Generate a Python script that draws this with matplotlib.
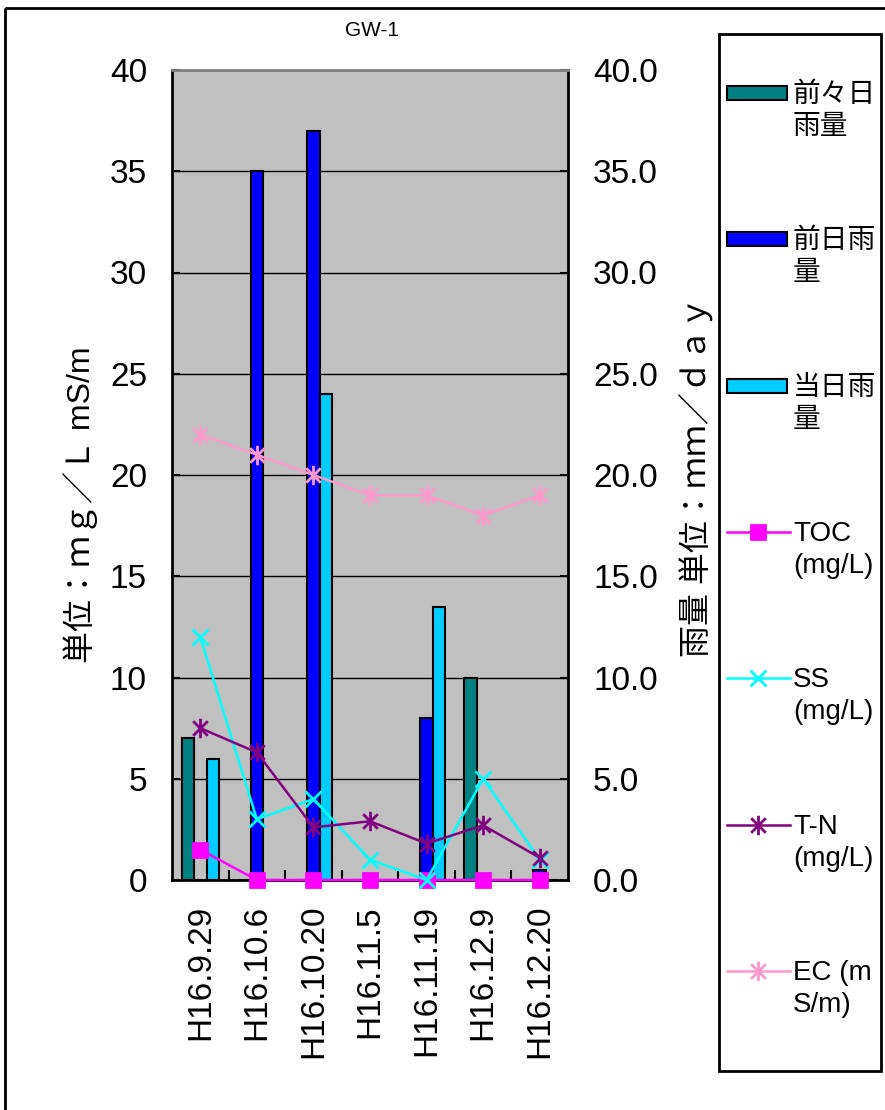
import matplotlib
matplotlib.use('Agg')
import matplotlib.pyplot as plt
import numpy as np
from matplotlib.patches import Rectangle
from matplotlib.path import Path

plt.rcParams['font.family'] = ['Liberation Sans', 'Noto Sans CJK JP', 'DejaVu Sans']

# ---------------- data ----------------
categories = ['H16.9.29', 'H16.10.6', 'H16.10.20', 'H16.11.5',
              'H16.11.19', 'H16.12.9', 'H16.12.20']
rain_2days_before = [7, 0, 0, 0, 0, 10, 0]
rain_day_before = [0, 35, 37, 0, 8, 0, 0.5]
rain_same_day = [6, 0, 24, 0, 13.5, 0, 0]
toc = [1.5, 0, 0, 0, 0, 0, 0]
ss = [12, 3, 4, 1, 0, 5, 1]
tn = [7.5, 6.3, 2.6, 2.9, 1.8, 2.7, 1.1]
ec = [22, 21, 20, 19, 19, 18, 19]
bar_labels = ['前々日\n雨量', '前日雨\n量', '当日雨\n量']
line_labels = ['TOC\n(mg/L)', 'SS\n(mg/L)', 'T-N\n(mg/L)', 'EC (m\nS/m)']
left_ticks = [0, 5, 10, 15, 20, 25, 30, 35, 40]
right_ticks = [0, 5, 10, 15, 20, 25, 30, 35, 40]
title = 'GW-1'
left_label = '単位：ｍｇ／Ｌ mS/m'
right_label = '雨量 単位：ｍｍ／ｄａｙ'

bar_colors = ['#008080', '#0000FF', '#00CCFF']
line_colors = ['#FF00FF', '#00FFFF', '#800080', '#FF99CC']

W, H = 885, 1110
fig = plt.figure(figsize=(W / 100, H / 100), dpi=100)
fig.patch.set_facecolor('white')

# overlay axes in pixel coordinates (borders, legend)
ov = fig.add_axes([0, 0, 1, 1])
ov.set_xlim(0, W)
ov.set_ylim(H, 0)
ov.axis('off')

# main axes
px_l, px_r, px_t, px_b = 172, 568, 70, 880
ax = fig.add_axes([px_l / W, 1 - px_b / H, (px_r - px_l) / W, (px_b - px_t) / H])
ax2 = ax.twinx()
ax.set_zorder(ax2.get_zorder() + 1)
ax.patch.set_visible(False)
ax2.patch.set_visible(True)
ax2.patch.set_facecolor('#C0C0C0')

x = np.arange(len(categories))
bw = 0.22
for i, (vals, col) in enumerate(zip([rain_2days_before, rain_day_before, rain_same_day], bar_colors)):
    ax2.bar(x + (i - 1) * bw, vals, bw, color=col, edgecolor='black', linewidth=1.5, zorder=2)

ax2.set_ylim(0, 40)
ax2.set_yticks(right_ticks)
ax2.set_yticklabels([f'{v:.1f}' for v in right_ticks])
ax2.yaxis.grid(True, color='black', linewidth=1)
ax2.set_axisbelow(True)
ax2.tick_params(axis='y', direction='in', length=6, width=1.5, pad=18, labelsize=24)
for s in ax2.spines.values():
    s.set_visible(False)

# lines on left axis
star = Path([(0, -1), (0, 1), (-0.75, -0.75), (0.75, 0.75), (-0.75, 0.75), (0.75, -0.75)],
            [Path.MOVETO, Path.LINETO, Path.MOVETO, Path.LINETO, Path.MOVETO, Path.LINETO])
markers = ['s', 'x', star, star]
msizes = [10, 12, 14, 14]
series = [toc, ss, tn, ec]
for vals, col, mk, ms in zip(series, line_colors, markers, msizes):
    ax.plot(x, vals, color=col, linewidth=1.8, marker=mk, markersize=ms,
            markeredgewidth=2, markerfacecolor=col, markeredgecolor=col,
            clip_on=False, zorder=3)

ax.set_xlim(-0.5, len(categories) - 0.5)
ax.set_ylim(0, 40)
ax.set_yticks(left_ticks)
ax.set_yticklabels([str(v) for v in left_ticks])
ax.tick_params(axis='y', direction='in', length=6, width=1.5, pad=18, labelsize=24)
ax.set_xticks(x)
ax.set_xticklabels(categories, rotation=90, fontsize=24, va='top')
ax.tick_params(axis='x', which='major', length=0, pad=18)
ax.set_xticks(np.arange(0.5, len(categories) - 0.5, 1), minor=True)
ax.tick_params(axis='x', which='minor', direction='in', length=7, width=1.5)
for side in ['left', 'right', 'bottom']:
    ax.spines[side].set_color('black')
    ax.spines[side].set_linewidth(2)
ax.spines['top'].set_color('#808080')
ax.spines['top'].set_linewidth(2)

# axis titles
fig.text(80 / W, 1 - 505 / H, left_label, rotation=90, ha='center', va='center', fontsize=23)
fig.text(696 / W, 1 - 477 / H, right_label, rotation=90, ha='center', va='center', fontsize=23)
fig.text(372 / W, 1 - 30 / H, title, ha='center', va='center', fontsize=15)

# outer chart border
ov.add_patch(Rectangle((5, 8), 900, 1120, fill=False, edgecolor='black', linewidth=2))

# legend
ov.add_patch(Rectangle((719, 34), 162, 1037, fill=False, edgecolor='black', linewidth=2))
y0, step = 93, 146.3
labels = bar_labels + line_labels
for k, lab in enumerate(labels):
    yy = y0 + k * step
    if k < 3:
        ov.add_patch(Rectangle((727, yy - 7), 60, 14, facecolor=bar_colors[k],
                               edgecolor='black', linewidth=1.5))
    else:
        j = k - 3
        ov.plot([727, 790], [yy, yy], color=line_colors[j], linewidth=1.8)
        ov.plot([758], [yy], marker=markers[j], markersize=msizes[j], markeredgewidth=2,
                color=line_colors[j], markerfacecolor=line_colors[j],
                markeredgecolor=line_colors[j])
    ov.text(793, yy - 11, lab, ha='left', va='top', fontsize=20, linespacing=1.3)

fig.savefig('out.png', dpi=100)
